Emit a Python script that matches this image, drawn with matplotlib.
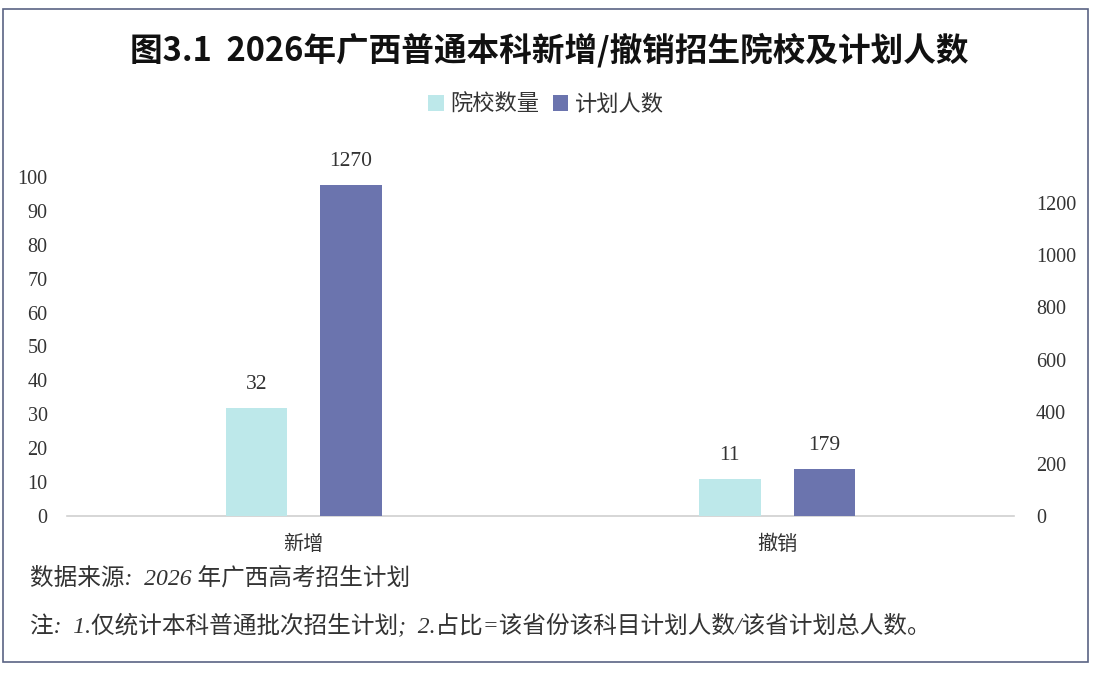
import matplotlib.pyplot as plt
import numpy as np
from matplotlib.patches import Rectangle

# 数据
categorias = ['新增', '撤销']
院校数量 = [32, 11]
计划人数 = [1270, 179]
left_ticks = list(range(0, 101, 10))
right_ticks = list(range(0, 1201, 200))

cor_escola = '#BDE8EA'
cor_plano = '#6B74AE'

cjk = ['Noto Sans CJK SC', 'DejaVu Sans']
serif = ['Liberation Serif', 'Noto Sans CJK SC']

fig = plt.figure(figsize=(11.08, 6.76), dpi=100)
ax = fig.add_axes([0.0605, 0.2367, 0.8545, 0.5015])
ax2 = ax.twinx()

x = np.arange(len(categorias))
b1 = ax.bar(x - 0.1, 院校数量, width=0.13, color=cor_escola, label='院校数量', zorder=3)
b2 = ax2.bar(x + 0.1, 计划人数, width=0.13, color=cor_plano, label='计划人数', zorder=3)

ax.set_xlim(-0.5, 1.5)
ax.set_ylim(0, 100)
ax2.set_ylim(0, 1300)
ax.set_yticks(left_ticks)
ax2.set_yticks(right_ticks)
ax.set_xticks(x)
ax.set_xticklabels(categorias, fontfamily=cjk, fontsize=16, color='#333333')

for a in (ax, ax2):
    for s in a.spines.values():
        s.set_visible(False)
    a.tick_params(length=0, labelsize=14.5, labelcolor='#333333')
ax.spines['bottom'].set_visible(True)
ax.spines['bottom'].set_color('#D0D0D0')
ax.spines['bottom'].set_linewidth(1.2)
ax.tick_params(axis='x', pad=13)
ax.tick_params(axis='y', pad=14)
ax2.tick_params(axis='y', pad=16)
for lbl in ax.get_yticklabels() + ax2.get_yticklabels():
    lbl.set_fontfamily(serif)

# rótulos de valores
ax.bar_label(b1, labels=[str(v) for v in 院校数量], padding=10, fontsize=15.5,
             fontfamily=serif, color='#333333')
ax2.bar_label(b2, labels=[str(v) for v in 计划人数], padding=10, fontsize=15.5,
              fontfamily=serif, color='#333333')

# legenda
h1, l1 = ax.get_legend_handles_labels()
h2, l2 = ax2.get_legend_handles_labels()
fig.legend(h1 + h2, l1 + l2, loc='center', bbox_to_anchor=(0.493, 0.846), ncol=2,
           frameon=False, prop={'family': cjk, 'size': 16}, handlelength=0.7,
           handleheight=0.7, handletextpad=0.3, columnspacing=0.6,
           labelcolor='#333333')

# título
fig.text(0.496, 0.926, '图3.1  2026年广西普通本科新增/撤销招生院校及计划人数',
         ha='center', va='center', fontsize=23.5, fontweight='bold',
         fontfamily=cjk, color='#111111')

# notas
fig.text(0.027, 0.145, '数据来源:  2026 年广西高考招生计划', fontsize=17,
         fontstyle='italic', fontfamily=serif, color='#333333', va='center')
fig.text(0.027, 0.075, '注:  1.仅统计本科普通批次招生计划;  2.占比=该省份该科目计划人数/该省计划总人数。',
         fontsize=17, fontstyle='italic', fontfamily=serif, color='#333333', va='center')

# moldura
fig.patches.append(Rectangle((0.003, 0.021), 0.979, 0.966, transform=fig.transFigure,
                             fill=False, edgecolor='#5A6484', linewidth=1.2))

fig.savefig('out.png', dpi=100, facecolor='white')
